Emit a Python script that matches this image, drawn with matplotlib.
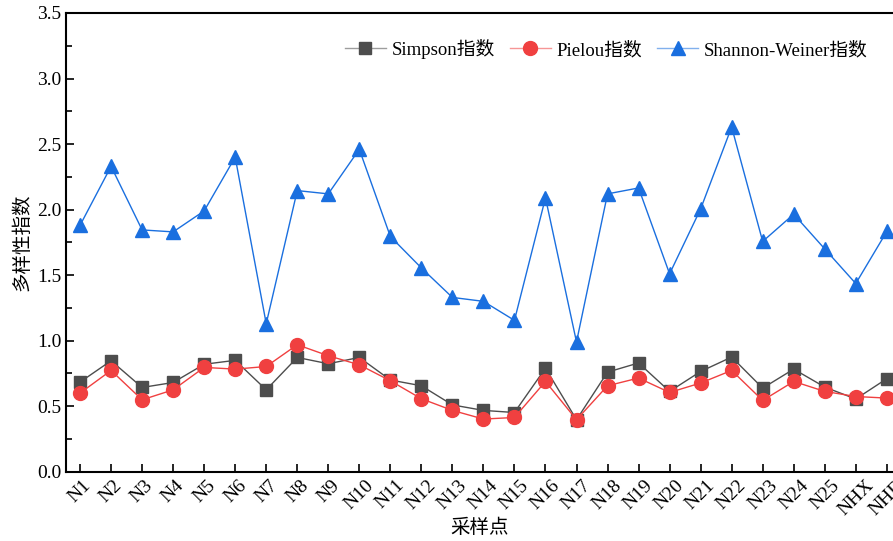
import numpy as np
import matplotlib.pyplot as plt
from matplotlib.ticker import MultipleLocator
from matplotlib.colors import to_rgba

plt.rcParams['font.family'] = ['Liberation Serif', 'Noto Sans CJK SC']

sites = ['N1', 'N2', 'N3', 'N4', 'N5', 'N6', 'N7', 'N8', 'N9', 'N10', 'N11', 'N12', 'N13',
         'N14', 'N15', 'N16', 'N17', 'N18', 'N19', 'N20', 'N21', 'N22', 'N23', 'N24', 'N25',
         'NHX', 'NHD']
simpson = [0.684, 0.847, 0.643, 0.681, 0.82, 0.85, 0.625, 0.872, 0.824, 0.872, 0.70, 0.656, 0.51,
           0.468, 0.452, 0.79, 0.397, 0.76, 0.83, 0.613, 0.765, 0.875, 0.638, 0.783, 0.646,
           0.555, 0.71]
pielou = [0.60, 0.773, 0.549, 0.625, 0.796, 0.783, 0.803, 0.969, 0.885, 0.816, 0.694, 0.557, 0.468,
          0.402, 0.414, 0.689, 0.397, 0.656, 0.715, 0.605, 0.677, 0.773, 0.544, 0.689, 0.613,
          0.574, 0.562]
shannon = [1.88, 2.33, 1.845, 1.83, 1.99, 2.40, 1.13, 2.145, 2.12, 2.46, 1.795, 1.555, 1.33,
           1.30, 1.155, 2.09, 0.99, 2.12, 2.165, 1.51, 2.005, 2.63, 1.757, 1.965, 1.70,
           1.436, 1.833]

x = np.arange(len(sites))
colors = ['#4d4d4d', '#f04040', '#1a6fdf']

fig = plt.figure(figsize=(8.93, 5.41), dpi=100)
ax = fig.add_axes([0.074, 0.128, 0.926, 0.848])

ax.plot(x, simpson, color=colors[0], lw=1, marker='s', markersize=9,
        markerfacecolor=colors[0], markeredgecolor=colors[0], label='Simpson指数')
ax.plot(x, pielou, color=colors[1], lw=1, marker='o', markersize=10,
        markerfacecolor=colors[1], markeredgecolor=colors[1], label='Pielou指数')
ax.plot(x, shannon, color=colors[2], lw=1, marker='^', markersize=10,
        markerfacecolor=colors[2], markeredgecolor=colors[2], label='Shannon-Weiner指数')

ax.set_ylim(0, 3.5)
ax.set_xlim(-0.45, 26.2)
ax.set_yticks(np.arange(0, 3.51, 0.5))
ax.set_yticklabels([f'{v:.1f}' for v in np.arange(0, 3.51, 0.5)])
ax.yaxis.set_minor_locator(MultipleLocator(0.25))
ax.set_xticks(x)
ax.set_xticklabels(sites, rotation=45, fontsize=14)
ax.tick_params(axis='y', labelsize=14)
ax.tick_params(which='major', direction='in', length=6, width=1.2)
ax.tick_params(which='minor', direction='in', length=4, width=1.2)

for s in ['left', 'bottom', 'top']:
    ax.spines[s].set_linewidth(1.5)
ax.spines['right'].set_visible(False)

ax.set_xlabel('采样点', fontsize=14, labelpad=0)
ax.set_ylabel('多样性指数', fontsize=14)

leg = ax.legend(loc='upper right', ncol=3, frameon=False, fontsize=13.5,
                bbox_to_anchor=(0.99, 0.98), handlelength=2.2, columnspacing=0.8,
                handletextpad=0.3)
for line, c in zip(leg.get_lines(), colors):
    line.set_color(to_rgba(c, 0.55))

fig.savefig('out.png', dpi=100)
